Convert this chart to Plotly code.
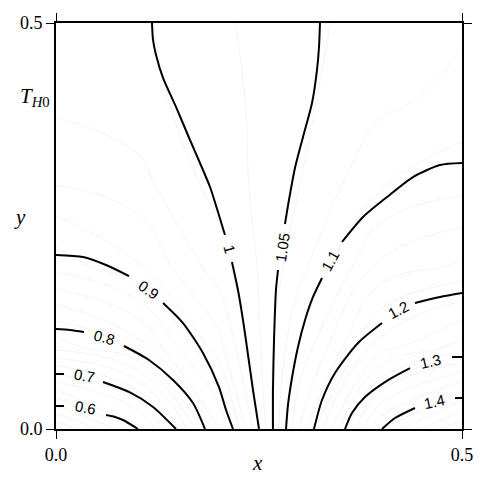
import plotly.graph_objects as go

# ---- coarse field (for the faint background contours) ----
GRID_X = [0.0, 0.1, 0.2, 0.3, 0.4, 0.5]
GRID_Y = [0.0, 0.1, 0.2, 0.3, 0.4, 0.5]
GRID_Z = [
    [0.500, 0.600, 0.845, 1.155, 1.400, 1.500],
    [0.758, 0.808, 0.940, 1.103, 1.240, 1.286],
    [0.884, 0.922, 0.988, 1.066, 1.157, 1.180],
    [0.950, 0.965, 1.010, 1.050, 1.098, 1.117],
    [0.980, 0.990, 1.015, 1.045, 1.070, 1.085],
    [0.985, 0.995, 1.020, 1.044, 1.060, 1.070],
]

# ---- labelled contour lines (None = gap for the label) ----
LEVELS = ["0.6", "0.7", "0.8", "0.9", "1", "1.05", "1.1", "1.2", "1.3", "1.4"]

C06_X = [0.0, 0.0099, None, 0.0616, 0.0727, 0.0825, 0.101]
C06_Y = [0.0283, 0.0283, None, 0.0172, 0.0148, 0.0111, 0.0]

C07_X = [0.0, 0.0099, None, 0.0579, 0.0899, 0.1195, 0.1478]
C07_Y = [0.0677, 0.0677, None, 0.0579, 0.0456, 0.0271, 0.0]

C08_X = [0.0, 0.0172, 0.0345, None, 0.0837, 0.1145, 0.1441, 0.1687, 0.1835]
C08_Y = [0.1232, 0.1219, 0.1195, None, 0.1022, 0.085, 0.0603, 0.032, 0.0]

C09_X = [0.0, 0.0333, 0.0616, 0.0899, None, 0.1318, 0.1564, 0.181, 0.2007, 0.2094, 0.218]
C09_Y = [0.2143, 0.2118, 0.202, 0.1884, None, 0.1552, 0.1305, 0.0936, 0.0517, 0.0234, 0.0]

C10_X = [0.1182, 0.1195, 0.1232, 0.1318, 0.1478, 0.165, 0.1773, 0.1897, 0.1995, 0.2081,
         None, 0.2167, 0.2241, 0.2303, 0.2365, 0.2426, 0.25]
C10_Y = [0.5, 0.4791, 0.4606, 0.4323, 0.3966, 0.3559, 0.3276, 0.298, 0.2672, 0.2389,
         None, 0.2057, 0.1712, 0.1342, 0.0911, 0.0480, 0.0]

C105_X = [0.3251, 0.3239, 0.3214, 0.3153, 0.3042, 0.2943, 0.2869, 0.282,
          None, 0.2734, 0.2709, 0.2685, 0.2672, 0.2672]
C105_Y = [0.5, 0.4704, 0.4421, 0.4015, 0.3596, 0.3214, 0.282, 0.2525,
          None, 0.1958, 0.1712, 0.1096, 0.048, 0.0]

C11_X = [0.5, 0.4729, 0.4397, 0.4076, 0.3781, 0.3522,
         None, 0.3276, 0.3165, 0.3067, 0.2980, 0.2906, 0.2857, 0.2833]
C11_Y = [0.3276, 0.3251, 0.3103, 0.2857, 0.2611, 0.2303,
         None, 0.186, 0.1626, 0.1342, 0.1010, 0.0628, 0.0296, 0.0]

C12_X = [0.5, 0.4729, 0.4421, None, 0.4015, 0.3719, 0.3436, 0.3276, 0.3177]
C12_Y = [0.1675, 0.1626, 0.1552, None, 0.1305, 0.1059, 0.069, 0.0357, 0.0]

C13_X = [0.5, 0.4877, None, 0.436, 0.4089, 0.3805, 0.3645, 0.3559]
C13_Y = [0.0887, 0.0887, None, 0.0751, 0.0603, 0.0394, 0.0197, 0.0]

C14_X = [0.5, 0.4914, None, 0.4421, 0.4175, 0.4015]
C14_Y = [0.0382, 0.0382, None, 0.0259, 0.0135, 0.0]

LABEL_X = [0.0369, 0.0345, 0.0603, 0.1133, 0.2131, 0.2783, 0.3374, 0.4224, 0.4606, 0.4667]
LABEL_Y = [0.0259, 0.0653, 0.1133, 0.1712, 0.2217, 0.2241, 0.2081, 0.1466, 0.0837, 0.0333]
LABEL_ANGLE = [10, 10, 15, 35, 75, -82, -61, -28, -13, -12]

TICK_VALS = [0.0, 0.5]
TICK_TEXT = ["0.0", "0.5"]

LINES = [(C06_X, C06_Y), (C07_X, C07_Y), (C08_X, C08_Y), (C09_X, C09_Y), (C10_X, C10_Y),
         (C105_X, C105_Y), (C11_X, C11_Y), (C12_X, C12_Y), (C13_X, C13_Y), (C14_X, C14_Y)]

fig = go.Figure()

fig.add_trace(go.Contour(
    x=GRID_X, y=GRID_Y, z=GRID_Z,
    contours=dict(start=0.525, end=1.5, size=0.025, coloring="lines", showlabels=False),
    colorscale=[[0, "#f0f0f0"], [1, "#f0f0f0"]],
    line=dict(width=0.8, smoothing=1.3),
    showscale=False, hoverinfo="skip",
))

for (lx, ly) in LINES:
    fig.add_trace(go.Scatter(
        x=lx, y=ly, mode="lines",
        line=dict(color="black", width=2, shape="spline", smoothing=0.7),
        connectgaps=False, showlegend=False, hoverinfo="skip",
    ))

for txt, ax, ay, ang in zip(LEVELS, LABEL_X, LABEL_Y, LABEL_ANGLE):
    fig.add_annotation(x=ax, y=ay, xref="x", yref="y", text=txt, showarrow=False,
                       textangle=ang, font=dict(family="Liberation Sans", size=15, color="black"))

serif = "Liberation Serif"
fig.add_annotation(x=-0.0517, y=0.8177, xref="paper", yref="paper", showarrow=False,
                   xanchor="center", yanchor="middle",
                   text="<i>T</i><sub><i>H</i>0</sub>",
                   font=dict(family=serif, size=21, color="black"))
fig.add_annotation(x=-0.0887, y=0.5222, xref="paper", yref="paper", showarrow=False,
                   xanchor="center", yanchor="middle",
                   text="<i>y</i>", font=dict(family=serif, size=21, color="black"))
fig.add_annotation(x=0.4975, y=-0.0837, xref="paper", yref="paper", showarrow=False,
                   xanchor="center", yanchor="middle",
                   text="<i>x</i>", font=dict(family=serif, size=21, color="black"))

axis_common = dict(
    range=[0, 0.5], showgrid=False, zeroline=False,
    showline=True, linecolor="black", linewidth=2, mirror="ticks",
    ticks="outside", ticklen=8, tickwidth=1.2, tickcolor="black",
    tickvals=TICK_VALS, ticktext=TICK_TEXT,
    tickfont=dict(family=serif, size=18, color="black"),
)
fig.update_xaxes(**axis_common)
fig.update_yaxes(**axis_common)

fig.update_layout(
    width=491, height=489,
    margin=dict(l=56, r=29, t=23, b=60),
    plot_bgcolor="white", paper_bgcolor="white",
    showlegend=False,
)

fig.write_html("out.html")
